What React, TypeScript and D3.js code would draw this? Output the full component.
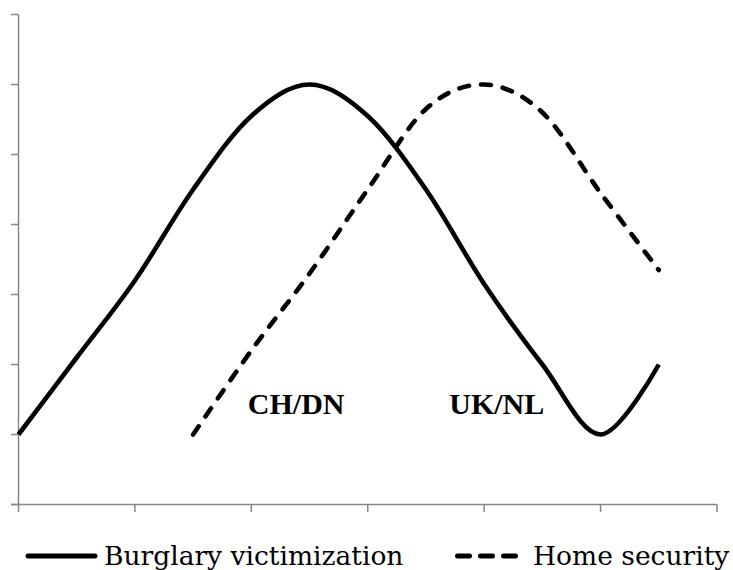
import React, { useEffect, useRef } from "react";
import * as d3 from "d3";

// x positions (0 = first tick, 6 = last tick) and y values (0..7 axis)
const burglaryX = [0, 0.5, 1, 1.5, 2, 2.5, 3, 3.5, 4, 4.5, 5, 5.5];
const burglaryY = [1, 2.1, 3.2, 4.5, 5.55, 6, 5.55, 4.5, 3.15, 2.0, 1, 2];

const securityX = [1.5, 2, 2.5, 3, 3.5, 4, 4.5, 5, 5.5];
const securityY = [1, 2.2, 3.3, 4.5, 5.65, 6, 5.6, 4.45, 3.35];

const xTicks = [0, 1, 2, 3, 4, 5, 6];
const yTicks = [0, 1, 2, 3, 4, 5, 6, 7];

const labels = [
  { text: "CH/DN", x: 1.97, y: 1.3 },
  { text: "UK/NL", x: 3.7, y: 1.3 },
];

const seriesNames = ["Burglary victimization", "Home security"];

const App: React.FC = () => {
  const svgRef = useRef<SVGSVGElement | null>(null);
  const width = 733;
  const height = 570;

  useEffect(() => {
    const svg = d3.select(svgRef.current);
    svg.selectAll("*").remove();

    const scaleX = d3.scaleLinear().domain([0, 6]).range([18.5, 717]);
    const scaleY = d3.scaleLinear().domain([0, 7]).range([504.5, 14.5]);

    const axisColor = "#868686";

    // y axis
    svg
      .append("line")
      .attr("x1", scaleX(0))
      .attr("x2", scaleX(0))
      .attr("y1", scaleY(7))
      .attr("y2", scaleY(0))
      .attr("stroke", axisColor)
      .attr("stroke-width", 1.5);
    svg
      .selectAll(".ytick")
      .data(yTicks)
      .enter()
      .append("line")
      .attr("x1", scaleX(0) - 7.5)
      .attr("x2", scaleX(0))
      .attr("y1", d => scaleY(d))
      .attr("y2", d => scaleY(d))
      .attr("stroke", axisColor)
      .attr("stroke-width", 1.5);

    // x axis
    svg
      .append("line")
      .attr("x1", scaleX(0) - 7.5)
      .attr("x2", scaleX(6))
      .attr("y1", scaleY(0))
      .attr("y2", scaleY(0))
      .attr("stroke", axisColor)
      .attr("stroke-width", 1.5);
    svg
      .selectAll(".xtick")
      .data(xTicks)
      .enter()
      .append("line")
      .attr("x1", d => scaleX(d))
      .attr("x2", d => scaleX(d))
      .attr("y1", scaleY(0))
      .attr("y2", scaleY(0) + 7.5)
      .attr("stroke", axisColor)
      .attr("stroke-width", 1.5);

    const line = d3
      .line<[number, number]>()
      .x(d => scaleX(d[0]))
      .y(d => scaleY(d[1]))
      .curve(d3.curveCardinal.tension(0));

    const burglary = burglaryX.map((x, i) => [x, burglaryY[i]] as [number, number]);
    const security = securityX.map((x, i) => [x, securityY[i]] as [number, number]);

    svg
      .append("path")
      .datum(security)
      .attr("fill", "none")
      .attr("stroke", "#000")
      .attr("stroke-width", 4.6)
      .attr("stroke-linecap", "round")
      .attr("stroke-dasharray", "10 12")
      .attr("d", line);

    svg
      .append("path")
      .datum(burglary)
      .attr("fill", "none")
      .attr("stroke", "#000")
      .attr("stroke-width", 4.6)
      .attr("stroke-linejoin", "round")
      .attr("d", line);

    svg
      .selectAll(".lbl")
      .data(labels)
      .enter()
      .append("text")
      .attr("x", d => scaleX(d.x))
      .attr("y", d => scaleY(d.y))
      .attr("font-family", "'Liberation Serif', serif")
      .attr("font-weight", "bold")
      .attr("font-size", 30)
      .attr("fill", "#000")
      .text(d => d.text);

    // legend
    const legendY = 556;
    svg
      .append("line")
      .attr("x1", 28)
      .attr("x2", 95)
      .attr("y1", legendY)
      .attr("y2", legendY)
      .attr("stroke", "#000")
      .attr("stroke-width", 5)
      .attr("stroke-linecap", "round");
    svg
      .append("text")
      .attr("x", 104)
      .attr("y", 565)
      .attr("font-family", "'DejaVu Serif', serif")
      .attr("font-size", 26.5)
      .attr("fill", "#000")
      .text(seriesNames[0]);

    svg
      .append("line")
      .attr("x1", 457.5)
      .attr("x2", 516)
      .attr("y1", legendY)
      .attr("y2", legendY)
      .attr("stroke", "#000")
      .attr("stroke-width", 5)
      .attr("stroke-linecap", "round")
      .attr("stroke-dasharray", "12 11");
    svg
      .append("text")
      .attr("x", 533)
      .attr("y", 565)
      .attr("font-family", "'DejaVu Serif', serif")
      .attr("font-size", 26.5)
      .attr("fill", "#000")
      .text(seriesNames[1]);
  }, []);

  return (
    <div style={{ position: "absolute", left: 0, top: 0 }}>
      <svg ref={svgRef} width={width} height={height} style={{ display: "block" }}></svg>
    </div>
  );
};

export default App;
